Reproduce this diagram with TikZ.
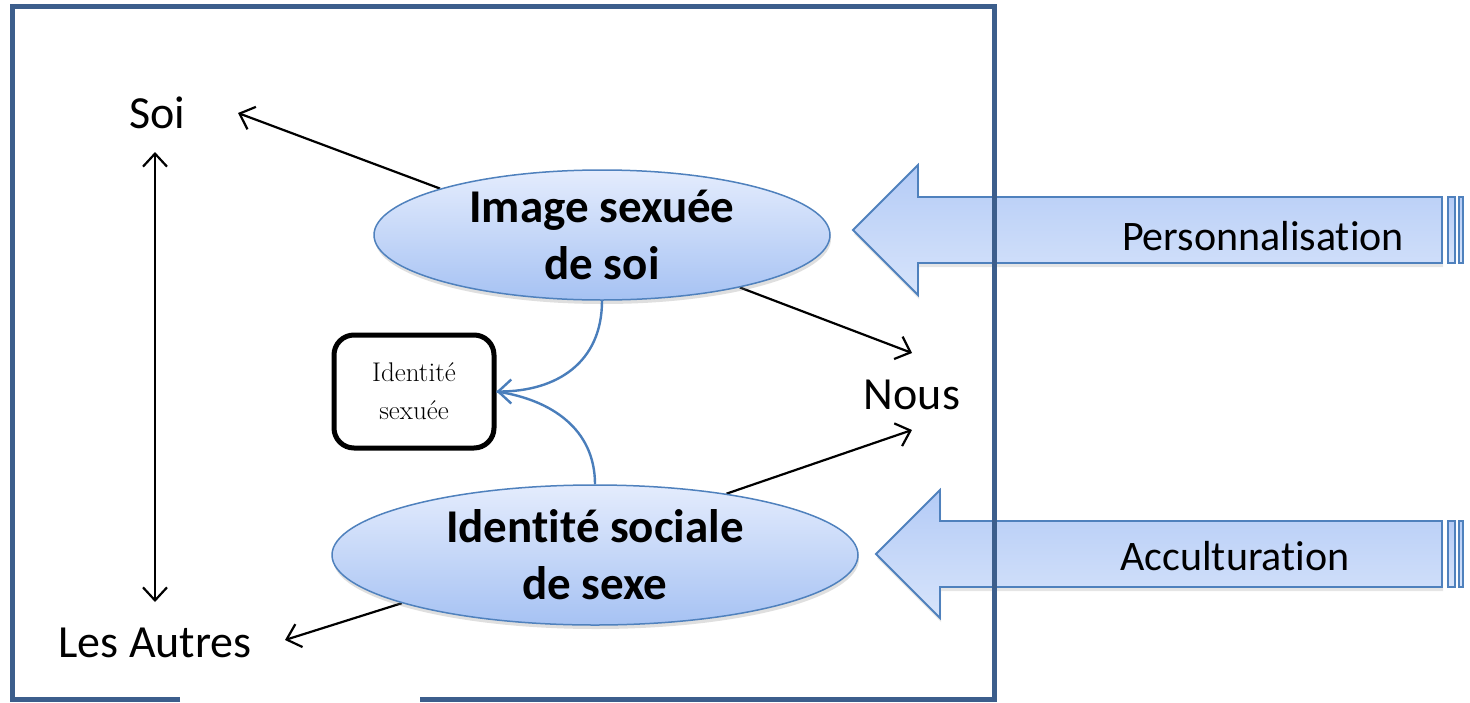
\documentclass[tikz,border=0pt]{standalone}
\usepackage{fontspec}
\newfontfamily\calf[Ligatures=NoCommon]{Carlito}
\usetikzlibrary{shapes.geometric,arrows.meta,shadows,backgrounds}
\definecolor{framec}{RGB}{60,94,140}
\definecolor{ellb}{RGB}{79,129,189}
\definecolor{elltop}{RGB}{228,236,253}
\definecolor{ellbot}{RGB}{166,194,243}
\definecolor{arrtop}{RGB}{180,203,246}
\definecolor{arrbot}{RGB}{215,228,251}
\definecolor{curvec}{RGB}{74,126,187}
\tikzset{
  lbl/.style={font=\calf\fontsize{46}{55}\selectfont, inner sep=0pt, anchor=base},
  bigtxt/.style={font=\calf\bfseries\fontsize{47}{57}\selectfont, align=center, inner sep=0pt},
  arrtxt/.style={font=\calf\fontsize{42}{50}\selectfont, inner sep=0pt, anchor=base},
  ell/.style={ellipse, draw=ellb, line width=1.5pt, top color=elltop, bottom color=ellbot, inner sep=0pt,
    drop shadow={opacity=0.25, shadow xshift=1pt, shadow yshift=-4pt}},
  blockarr/.style={draw=ellb, line width=1.8pt, top color=arrtop, bottom color=arrbot},
  conn/.style={draw=black, line width=2.2pt, -{Straight Barb[length=13pt,width=24pt]}},
  bconn/.style={draw=black, line width=2.2pt, {Straight Barb[length=13pt,width=24pt]}-{Straight Barb[length=13pt,width=24pt]}},
  bcurve/.style={draw=curvec, line width=2.4pt},
  idbox/.style={draw=black, line width=5pt, rounded corners=20pt, minimum width=160pt, minimum height=113pt,
    align=center, font=\fontsize{27}{38}\selectfont, inner sep=0pt}
}
\begin{document}
\begin{tikzpicture}[x=1pt,y=-1pt]
\useasboundingbox (0,0) rectangle (1470,702);

% text labels
\node[lbl] (soi) at (157,128) {Soi};
\node[lbl] (autres) at (155,657) {Les Autres};
\node[lbl] (nous) at (912,409) {Nous};

% arrow end coordinates
\coordinate (soiTip) at (238,113);
\coordinate (nousTipA) at (912,353);
\coordinate (nousTipB) at (912,430);
\coordinate (autTip) at (285,640);
\coordinate (vTop) at (155,152);
\coordinate (vBot) at (155,602);

% ellipse nodes (shapes)
\node[ell, minimum width=456pt, minimum height=130pt] (e1) at (602,235) {};
\node[ell, minimum width=526pt, minimum height=140pt] (e2) at (595,555) {};

% black connectors (drawn under ellipses)
\begin{pgfonlayer}{background}
\fill[white] (0,0) rectangle (1470,702);
\draw[conn] (e1.164) -- (soiTip);
\draw[conn] (e1) -- (nousTipA);
\draw[conn] (e2.25) -- (nousTipB);
\draw[conn] (e2.194) -- (autTip);
\end{pgfonlayer}
\draw[bconn] (vTop) -- (vBot);

% identity box
\node[idbox] (box) at (414,391.5) {Identité\\sexuée};

% blue curves
\draw[bcurve, -{Straight Barb[length=13pt,width=24pt]}] (e1.south) .. controls +(0,62) and +(60,0) .. (box.east);
\draw[bcurve] (e2.north) .. controls +(0,-55) and +(55,8) .. (box.east);

% ellipse texts
\node[bigtxt] (t1) at (e1.center) {Image sexuée\\de soi};
\node[bigtxt] (t2) at (e2.center) {Identité sociale\\de sexe};

% block arrows
\path[blockarr, drop shadow={opacity=0.2, shadow xshift=1pt, shadow yshift=-4pt}]
  (853,230) -- (918,165) -- (918,197) -- (1442,197) -- (1442,263) -- (918,263) -- (918,295) -- cycle;
\path[blockarr, line width=1.5pt] (1448,197) rectangle (1455,263);
\path[blockarr, line width=1.5pt] (1459,197) rectangle (1463,263);
\path[blockarr, drop shadow={opacity=0.2, shadow xshift=1pt, shadow yshift=-4pt}]
  (876,554) -- (940,490) -- (940,521) -- (1442,521) -- (1442,587) -- (940,587) -- (940,618) -- cycle;
\path[blockarr, line width=1.5pt] (1448,521) rectangle (1455,587);
\path[blockarr, line width=1.5pt] (1459,521) rectangle (1463,587);
\node[arrtxt] (pers) at (1263,250) {Personnalisation};
\node[arrtxt] (acc) at (1235,570) {Acculturation};

% frame
\draw[framec, line width=5pt, line join=miter] (180,699.5) -- (12.5,699.5) -- (12.5,6.5) -- (994.5,6.5) -- (994.5,699.5) -- (420,699.5);
\end{tikzpicture}
\end{document}
